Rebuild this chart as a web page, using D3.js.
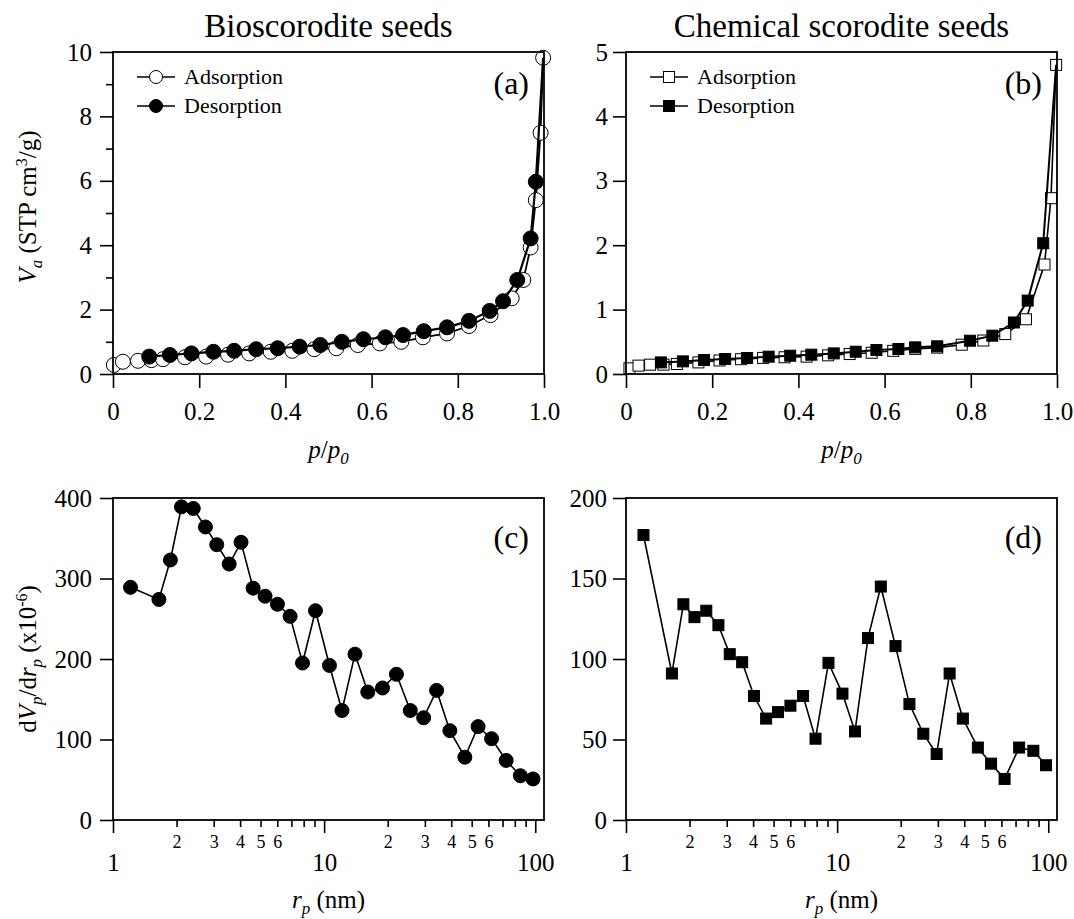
<!DOCTYPE html>
<html>
<head>
<meta charset="utf-8">
<script src="https://cdn.jsdelivr.net/npm/d3@7"></script>
<style>
  body { margin: 0; background: #fff; }
  svg, svg text, svg tspan { font-family: "Liberation Serif", "Times New Roman", serif; fill: #000; }
</style>
</head>
<body>
<svg id="chart" width="1074" height="919" style="font-family:'Liberation Serif',serif"></svg>
<script>
// isotherm (a): bioscorodite
const bioAdsP = [0.002, 0.023, 0.058, 0.089, 0.116, 0.167, 0.216, 0.267, 0.316, 0.366, 0.416, 0.467, 0.518, 0.568, 0.619, 0.669, 0.719, 0.775, 0.826, 0.876, 0.925, 0.952, 0.969, 0.981, 0.992, 0.998];
const bioAdsV = [0.28, 0.38, 0.41, 0.43, 0.46, 0.52, 0.54, 0.60, 0.64, 0.69, 0.72, 0.77, 0.80, 0.90, 0.95, 1.00, 1.14, 1.26, 1.49, 1.83, 2.35, 2.92, 3.93, 5.40, 7.49, 9.82];
const bioDesP = [0.981, 0.969, 0.938, 0.905, 0.874, 0.826, 0.775, 0.721, 0.673, 0.632, 0.581, 0.531, 0.481, 0.433, 0.382, 0.332, 0.281, 0.233, 0.182, 0.132, 0.084];
const bioDesV = [5.97, 4.21, 2.92, 2.26, 1.96, 1.65, 1.45, 1.33, 1.21, 1.14, 1.08, 1.00, 0.90, 0.85, 0.80, 0.77, 0.72, 0.69, 0.64, 0.59, 0.54];

// isotherm (b): chemical scorodite
const chemAdsP = [0.008, 0.029, 0.056, 0.087, 0.118, 0.168, 0.217, 0.267, 0.318, 0.368, 0.419, 0.469, 0.519, 0.570, 0.620, 0.671, 0.722, 0.779, 0.829, 0.880, 0.928, 0.971, 0.986, 0.998];
const chemAdsV = [0.088, 0.13, 0.145, 0.145, 0.155, 0.18, 0.21, 0.23, 0.25, 0.26, 0.27, 0.29, 0.31, 0.33, 0.36, 0.39, 0.41, 0.455, 0.52, 0.62, 0.85, 1.70, 2.73, 4.80];
const chemDesP = [0.968, 0.932, 0.900, 0.850, 0.798, 0.722, 0.671, 0.632, 0.581, 0.533, 0.482, 0.430, 0.381, 0.331, 0.281, 0.230, 0.181, 0.132, 0.081];
const chemDesV = [2.03, 1.14, 0.80, 0.595, 0.517, 0.43, 0.414, 0.388, 0.372, 0.346, 0.32, 0.30, 0.284, 0.269, 0.248, 0.233, 0.217, 0.196, 0.18];

// pore size distributions (c) and (d)
const poreRadius = [1.21, 1.65, 1.87, 2.11, 2.40, 2.74, 3.10, 3.55, 4.04, 4.61, 5.25, 6.01, 6.9, 7.9, 9.1, 10.6, 12.15, 14.0, 16.1, 18.9, 22.0, 25.6, 29.6, 34.1, 39.4, 46.4, 53.6, 62.1, 72.8, 85.0, 97.6];
const bioDist = [289, 274, 323, 389, 387, 364, 342, 318, 345, 288, 278, 268, 253, 195, 260, 192, 136, 206, 159, 164, 181, 136, 127, 161, 111, 78, 116, 101, 74, 55, 51];
const chemDist = [177, 91, 134, 126, 130, 121, 103, 98, 77, 63, 67, 71, 77, 50.5, 97.6, 78.5, 55, 113, 145, 108, 72, 53.6, 41, 91, 63, 45, 35, 25.5, 45, 43, 34];

// ticks
const isoXTicks = [0, 0.2, 0.4, 0.6, 0.8, 1.0];
const bioYTicks = [0, 2, 4, 6, 8, 10];
const bioYMinor = [1, 3, 5, 7, 9];
const chemYTicks = [0, 1, 2, 3, 4, 5];
const bioDistTicks = [0, 100, 200, 300, 400];
const chemDistTicks = [0, 50, 100, 150, 200];
const logMajor = [1, 10, 100];
const logMinor = [2, 3, 4, 5, 6, 7, 8, 9, 20, 30, 40, 50, 60, 70, 80, 90];
const logMinorLabelled = [2, 3, 4, 5, 6];

const SERIF = "'Liberation Serif', 'Times New Roman', serif";
const svg = d3.select("#chart");
const zip = (a, b) => a.map((v, i) => [v, b[i]]);

const cols = [{ x0: 113, x1: 544 }, { x0: 626, x1: 1057 }];
const rows = [{ y0: 374, y1: 52 }, { y0: 820, y1: 498 }];

function txt(sel) {
  return sel.append("text").style("font-family", SERIF).attr("fill", "#000");
}

function frame(g, c, r) {
  g.append("rect")
    .attr("x", c.x0).attr("y", r.y1)
    .attr("width", c.x1 - c.x0).attr("height", r.y0 - r.y1)
    .attr("fill", "none").attr("stroke", "#000").attr("stroke-width", 1.8);
}

function styleAxis(a, fs) {
  a.attr("font-family", null).attr("font-size", null);
  a.select(".domain").remove();
  a.selectAll("line").attr("stroke", "#000").attr("stroke-width", 1.6);
  a.selectAll("text").style("font-family", SERIF).style("font-size", fs + "px").attr("fill", "#000");
}

function yAxis(g, y, c, ticks, minor, pad) {
  const a = g.append("g").attr("transform", `translate(${c.x0},0)`)
    .call(d3.axisLeft(y).tickValues(ticks).tickSize(13).tickPadding(pad).tickFormat(d3.format("d")));
  styleAxis(a, 25);
  if (minor) {
    const m = g.append("g").attr("transform", `translate(${c.x0},0)`)
      .call(d3.axisLeft(y).tickValues(minor).tickSize(7).tickFormat(""));
    styleAxis(m, 25);
  }
}

function isoXAxis(g, x, r) {
  const a = g.append("g").attr("transform", `translate(0,${r.y0})`)
    .call(d3.axisBottom(x).tickValues(isoXTicks).tickSize(14).tickPadding(14)
      .tickFormat(d => d === 0 ? "0" : d3.format(".1f")(d)));
  styleAxis(a, 25);
}

function logXAxis(g, x, r) {
  const a = g.append("g").attr("transform", `translate(0,${r.y0})`)
    .call(d3.axisBottom(x).tickValues(logMajor).tickSize(13).tickPadding(20).tickFormat(d3.format("d")));
  styleAxis(a, 25);
  const m = g.append("g").attr("transform", `translate(0,${r.y0})`)
    .call(d3.axisBottom(x).tickValues(logMinor).tickSize(7).tickPadding(8)
      .tickFormat(d => {
        const k = Math.round(d / Math.pow(10, Math.floor(Math.log10(d) + 1e-9)));
        return logMinorLabelled.includes(k) ? String(k) : "";
      }));
  styleAxis(m, 18);
}

function panelLabel(g, c, r, s, dy) {
  txt(g).attr("x", c.x1 - 15).attr("y", r.y1 + dy)
    .attr("text-anchor", "end").style("font-size", "32px").text(s);
}

function title(s, c) {
  txt(svg).attr("x", (c.x0 + c.x1) / 2).attr("y", 37)
    .attr("text-anchor", "middle").style("font-size", "33px").text(s);
}

function ppLabel(c) {
  const t = txt(svg).attr("x", (c.x0 + c.x1) / 2).attr("y", 458)
    .attr("text-anchor", "middle").style("font-size", "25px");
  t.append("tspan").style("font-style", "italic").text("p");
  t.append("tspan").text("/");
  t.append("tspan").style("font-style", "italic").text("p");
  t.append("tspan").style("font-style", "italic").style("font-size", "17px").attr("dy", 6).text("0");
}

function rpLabel(c) {
  const t = txt(svg).attr("x", (c.x0 + c.x1) / 2).attr("y", 908)
    .attr("text-anchor", "middle").style("font-size", "25px");
  t.append("tspan").style("font-style", "italic").text("r");
  t.append("tspan").style("font-style", "italic").style("font-size", "17px").attr("dy", 6).text("p");
  t.append("tspan").attr("dy", -6).text(" (nm)");
}

function legend(g, c, items, shape) {
  items.forEach((it, i) => {
    const ly = 77 + i * 29;
    const lx = c.x0 + 24;
    g.append("line").attr("x1", lx).attr("x2", lx + 38).attr("y1", ly).attr("y2", ly)
      .attr("stroke", "#000").attr("stroke-width", 1.6);
    if (shape === "circle") {
      g.append("circle").attr("cx", lx + 19).attr("cy", ly).attr("r", 6.5)
        .attr("fill", it.fill).attr("stroke", "#000").attr("stroke-width", 1);
    } else {
      g.append("rect").attr("x", lx + 19 - 5.5).attr("y", ly - 5.5).attr("width", 11).attr("height", 11)
        .attr("fill", it.fill).attr("stroke", "#000").attr("stroke-width", 1);
    }
    txt(g).attr("x", lx + 47).attr("y", ly + 7).style("font-size", "22px").text(it.name);
  });
}

function series(g, x, y, pts, linePts, fill, shape, size, lw) {
  g.append("path").datum(linePts)
    .attr("fill", "none").attr("stroke", "#000").attr("stroke-width", lw)
    .attr("d", d3.line().x(d => x(d[0])).y(d => y(d[1])));
  if (shape === "circle") {
    g.selectAll(null).data(pts).enter().append("circle")
      .attr("cx", d => x(d[0])).attr("cy", d => y(d[1])).attr("r", size)
      .attr("fill", fill).attr("stroke", "#000").attr("stroke-width", 1);
  } else {
    g.selectAll(null).data(pts).enter().append("rect")
      .attr("x", d => x(d[0]) - size / 2).attr("y", d => y(d[1]) - size / 2)
      .attr("width", size).attr("height", size)
      .attr("fill", fill).attr("stroke", "#000").attr("stroke-width", 1);
  }
}

// ---- panel (a)
{
  const c = cols[0], r = rows[0];
  const g = svg.append("g");
  const x = d3.scaleLinear().domain([0, 1]).range([c.x0, c.x1]);
  const y = d3.scaleLinear().domain([0, 10]).range([r.y0, r.y1]);
  const ads = zip(bioAdsP, bioAdsV), des = zip(bioDesP, bioDesV);
  series(g, x, y, ads, ads, "#fff", "circle", 7.5, 1.8);
  series(g, x, y, des, [ads[ads.length - 1]].concat(des), "#000", "circle", 7.5, 2.2);
  frame(g, c, r);
  yAxis(g, y, c, bioYTicks, bioYMinor, 8);
  isoXAxis(g, x, r);
  legend(g, c, [{ name: "Adsorption", fill: "#fff" }, { name: "Desorption", fill: "#000" }], "circle");
  panelLabel(g, c, r, "(a)", 42);
  title("Bioscorodite seeds", c);
  ppLabel(c);
  const t = txt(svg).attr("transform", `translate(36,${(r.y0 + r.y1) / 2 - 6}) rotate(-90)`)
    .attr("text-anchor", "middle").style("font-size", "25px");
  t.append("tspan").style("font-style", "italic").text("V");
  t.append("tspan").style("font-style", "italic").style("font-size", "17px").attr("dy", 6).text("a");
  t.append("tspan").attr("dy", -6).text(" (STP cm");
  t.append("tspan").style("font-size", "16px").attr("dy", -9).text("3");
  t.append("tspan").attr("dy", 9).text("/g)");
}

// ---- panel (b)
{
  const c = cols[1], r = rows[0];
  const g = svg.append("g");
  const x = d3.scaleLinear().domain([0, 1]).range([c.x0, c.x1]);
  const y = d3.scaleLinear().domain([0, 5]).range([r.y0, r.y1]);
  const ads = zip(chemAdsP, chemAdsV), des = zip(chemDesP, chemDesV);
  series(g, x, y, ads, ads, "#fff", "rect", 11, 1.6);
  series(g, x, y, des, [ads[ads.length - 1]].concat(des), "#000", "rect", 11, 2);
  frame(g, c, r);
  yAxis(g, y, c, chemYTicks, null, 5);
  isoXAxis(g, x, r);
  legend(g, c, [{ name: "Adsorption", fill: "#fff" }, { name: "Desorption", fill: "#000" }], "rect");
  panelLabel(g, c, r, "(b)", 42);
  title("Chemical scorodite seeds", c);
  ppLabel(c);
}

// ---- panel (c)
{
  const c = cols[0], r = rows[1];
  const g = svg.append("g");
  const x = d3.scaleLog().domain([1, 110]).range([c.x0, c.x1]);
  const y = d3.scaleLinear().domain([0, 400]).range([r.y0, r.y1]);
  const pts = zip(poreRadius, bioDist);
  series(g, x, y, pts, pts, "#000", "circle", 7, 1.6);
  frame(g, c, r);
  yAxis(g, y, c, bioDistTicks, null, 8);
  logXAxis(g, x, r);
  panelLabel(g, c, r, "(c)", 50);
  rpLabel(c);
  const t = txt(svg).attr("transform", `translate(36,${(r.y0 + r.y1) / 2}) rotate(-90)`)
    .attr("text-anchor", "middle").style("font-size", "25px");
  t.append("tspan").text("d");
  t.append("tspan").style("font-style", "italic").text("V");
  t.append("tspan").style("font-style", "italic").style("font-size", "17px").attr("dy", 6).text("p");
  t.append("tspan").attr("dy", -6).text("/d");
  t.append("tspan").style("font-style", "italic").text("r");
  t.append("tspan").style("font-style", "italic").style("font-size", "17px").attr("dy", 6).text("p");
  t.append("tspan").attr("dy", -6).text(" (x10");
  t.append("tspan").style("font-size", "16px").attr("dy", -9).text("-6");
  t.append("tspan").attr("dy", 9).text(")");
}

// ---- panel (d)
{
  const c = cols[1], r = rows[1];
  const g = svg.append("g");
  const x = d3.scaleLog().domain([1, 110]).range([c.x0, c.x1]);
  const y = d3.scaleLinear().domain([0, 200]).range([r.y0, r.y1]);
  const pts = zip(poreRadius, chemDist);
  series(g, x, y, pts, pts, "#000", "rect", 11, 1.6);
  frame(g, c, r);
  yAxis(g, y, c, chemDistTicks, null, 6);
  logXAxis(g, x, r);
  panelLabel(g, c, r, "(d)", 50);
  rpLabel(c);
}
</script>
</body>
</html>
